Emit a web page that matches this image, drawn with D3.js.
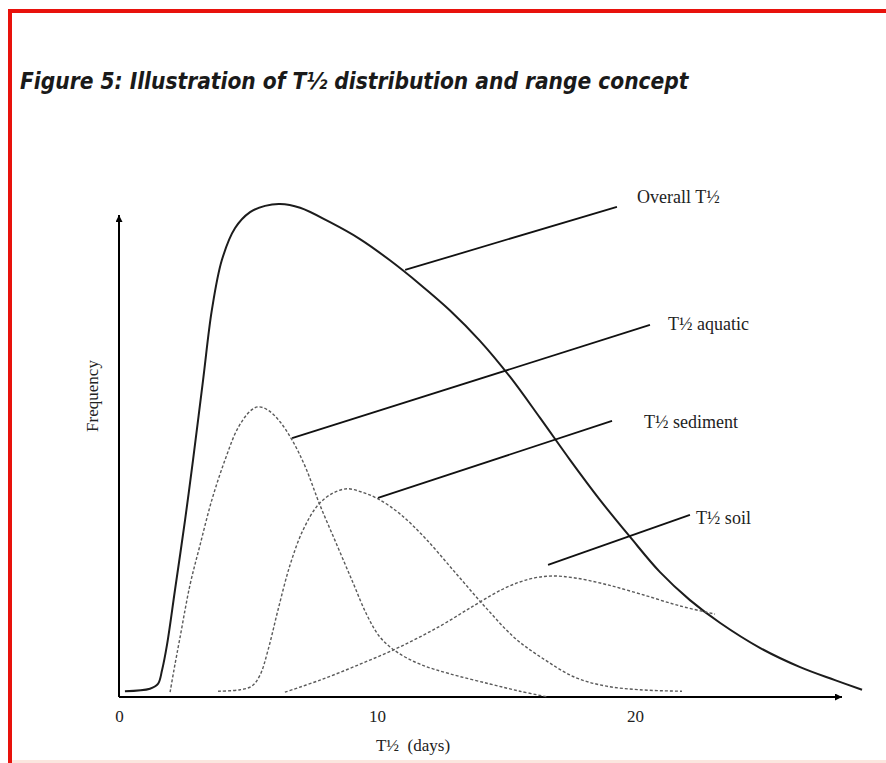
<!DOCTYPE html>
<html><head><meta charset="utf-8">
<script src="https://cdn.jsdelivr.net/npm/d3@7"></script>
<style>body{margin:0;background:#fff}svg{display:block}</style>
</head><body>
<script>
// ---- data (days, frequency in arbitrary units) ----
const overallDays = [0.23,1.20,1.51,1.67,1.86,2.17,2.56,2.87,3.26,3.60,3.99,4.50,5.08,5.66,6.24,7.02,8.18,9.34,10.50,11.67,12.83,13.99,15.16,16.32,17.48,18.64,19.81,20.97,22.13,23.29,24.84,26.40,27.75,28.80];
const overallFreq = [1.2,1.7,2.7,5.6,10.8,22.2,36.7,49.2,65.8,80.3,90.7,97.3,100.6,101.9,102.3,101.5,98.5,95.0,90.6,85.6,80.2,73.9,66.4,57.9,49.2,40.9,33.2,25.9,20.1,15.4,10.2,6.2,3.5,1.5];
const aquaticDays = [1.98,2.13,2.36,2.75,3.14,3.60,4.11,4.61,5.08,5.39,5.78,6.24,6.71,7.21,7.79,8.45,9.07,9.61,10.12,10.78,11.67,12.83,14.38,15.54,16.63];
const aquaticFreq = [1.0,5.6,12.2,23.2,31.5,40.9,49.2,55.8,59.3,60.2,59.5,57.1,53.3,47.9,39.8,31.5,23.7,17.0,12.4,9.3,6.8,4.8,2.7,1.2,0];
const sedimentDays = [3.84,4.69,5.16,5.47,5.78,6.16,6.63,7.13,7.71,8.29,8.84,9.42,10.04,10.89,11.86,13.02,14.19,15.35,16.51,17.67,18.84,20.19,21.82];
const sedimentFreq = [1.2,1.5,2.3,4.6,9.8,18.0,27.4,34.6,39.8,42.3,43.2,42.5,41.1,38.0,33.0,25.9,18.7,12.2,7.7,4.1,2.3,1.5,1.2];
const soilDays = [6.43,7.79,9.34,10.89,12.44,13.80,14.96,15.93,16.78,17.67,18.84,20.19,21.74,23.10];
const soilFreq = [1.0,3.5,6.8,10.4,14.7,19.1,22.6,24.5,25.1,24.7,23.4,21.4,18.9,17.2];

const seriesNames = ["Overall T½","T½ aquatic","T½ sediment","T½ soil"];
// leader lines: [day, freq]
const leaderStart = [[11.09,88.6],[6.71,53.7],[10.04,41.3],[16.63,27.4]];
const leaderEnd   = [[19.30,101.7],[20.58,77.2],[19.11,57.3],[22.13,37.8]];
const labelPos    = [[20.08,102.5],[21.28,76.2],[20.35,55.8],[22.36,35.9]];

const xTicks = [0,10,20];
const titleText = "Figure 5: Illustration of T½ distribution and range concept";
const xTitle = "T½  (days)";
const yTitle = "Frequency";

// ---- layout ----
const W = 886, H = 763;
const svg = d3.select("body").append("svg").attr("width", W).attr("height", H);

// frame
svg.append("rect").attr("x",0).attr("y",0).attr("width",W).attr("height",H).attr("fill","#fff");
svg.append("rect").attr("x",8).attr("y",9).attr("width",W-8).attr("height",4).attr("fill","#e8120c");
svg.append("rect").attr("x",8).attr("y",9).attr("width",4).attr("height",H-9).attr("fill","#e8120c");
svg.append("rect").attr("x",12).attr("y",760).attr("width",W-12).attr("height",3).attr("fill","#fbe6df");

svg.append("text").attr("x",20).attr("y",89)
  .attr("font-family","'DejaVu Sans Condensed','DejaVu Sans',sans-serif")
  .attr("font-weight","bold").attr("font-style","italic").attr("font-size",22.5)
  .attr("fill","#1a1a1a").text(titleText);

const x0 = 119, yBase = 697;
const x = d3.scaleLinear().domain([0, 10]).range([x0, 377]);
const y = d3.scaleLinear().domain([0, 100]).range([yBase, 215]);

// arrow markers
const defs = svg.append("defs");
defs.append("marker").attr("id","arr").attr("viewBox","0 0 10 10").attr("refX",10).attr("refY",5)
  .attr("markerWidth",9).attr("markerHeight",7).attr("markerUnits","userSpaceOnUse").attr("orient","auto")
  .append("path").attr("d","M0,0 L10,5 L0,10 z").attr("fill","#000");

// axes lines
svg.append("line").attr("x1",x0).attr("y1",yBase).attr("x2",x0).attr("y2",215)
  .attr("stroke","#000").attr("stroke-width",2).attr("marker-end","url(#arr)");
svg.append("line").attr("x1",x0).attr("y1",yBase).attr("x2",842).attr("y2",yBase)
  .attr("stroke","#000").attr("stroke-width",2).attr("marker-end","url(#arr)");

// ticks via d3 axis
const gx = svg.append("g").attr("transform",`translate(0,${yBase})`)
  .call(d3.axisBottom(x).tickValues(xTicks).tickSize(0).tickPadding(13).tickFormat(d3.format("d")));
gx.select(".domain").remove();
gx.selectAll("text").attr("font-family","'Liberation Serif',serif").attr("font-size",17).attr("fill","#222");

svg.append("text").attr("x",413).attr("y",751).attr("text-anchor","middle")
  .attr("font-family","'Liberation Serif',serif").attr("font-size",17).attr("fill","#222")
  .attr("xml:space","preserve").style("white-space","pre").text(xTitle);
svg.append("text").attr("transform","translate(98,396) rotate(-90)").attr("text-anchor","middle")
  .attr("font-family","'Liberation Serif',serif").attr("font-size",17).attr("fill","#222").text(yTitle);

// curves
const line = d3.line().x(d=>x(d[0])).y(d=>y(d[1])).curve(d3.curveCatmullRom.alpha(0.5));
const zip = (a,b)=>a.map((v,i)=>[v,b[i]]);
const curves = [
  {pts: zip(overallDays, overallFreq), dashed:false},
  {pts: zip(aquaticDays, aquaticFreq), dashed:true},
  {pts: zip(sedimentDays, sedimentFreq), dashed:true},
  {pts: zip(soilDays, soilFreq), dashed:true}
];
curves.forEach(c=>{
  svg.append("path").attr("d", line(c.pts)).attr("fill","none")
    .attr("stroke", c.dashed ? "#5a5a5a" : "#1c1c1c")
    .attr("stroke-width", c.dashed ? 1.4 : 2)
    .attr("stroke-dasharray", c.dashed ? "3,2" : null);
});

// leaders and labels
seriesNames.forEach((n,i)=>{
  svg.append("line").attr("x1",x(leaderStart[i][0])).attr("y1",y(leaderStart[i][1]))
    .attr("x2",x(leaderEnd[i][0])).attr("y2",y(leaderEnd[i][1]))
    .attr("stroke","#111").attr("stroke-width",1.8);
  svg.append("text").attr("x",x(labelPos[i][0])).attr("y",y(labelPos[i][1]))
    .attr("font-family","'Liberation Serif',serif").attr("font-size",18).attr("fill","#222").text(n);
});
</script>
</body></html>
